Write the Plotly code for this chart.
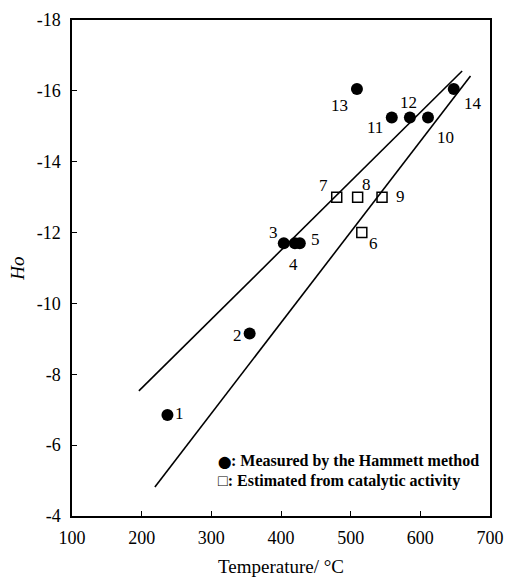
import plotly.graph_objects as go

# Acid strength (Ho) against temperature for each numbered catalyst
point_ids = ["1", "2", "3", "4", "5", "6", "7", "8", "9", "10", "11", "12", "13", "14"]
temperature = [237, 355, 404, 420, 427, 516, 480, 510, 545, 611, 559, 585, 509, 648]
ho_value = [-6.85, -9.15, -11.7, -11.7, -11.7, -12.0, -13.0, -13.0, -13.0,
            -15.25, -15.25, -15.25, -16.05, -16.05]
method = ["H", "H", "H", "H", "H", "C", "C", "C", "C", "H", "H", "H", "H", "H"]

# Two straight boundary lines drawn through the data
upper_line_t = [196, 660]
upper_line_ho = [-7.53, -16.56]
lower_line_t = [219, 672]
lower_line_ho = [-4.82, -16.42]

x_ticks = [100, 200, 300, 400, 500, 600, 700]
y_ticks = [-18, -16, -14, -12, -10, -8, -6, -4]

# Pixel offsets of each number label from its marker (dx right, dy down)
label_dx = [12, -12, -10, -1, 16, 12, -13, 9, 18, 17, -17, -1, -17, 19]
label_dy = [-2, 2, -11, 21, -4, 11, -12, -13, -1, 20, 10, -15, 16, 14]

SERIF = "Liberation Serif, Times New Roman, serif"

fig = go.Figure()

for xs, ys in ((upper_line_t, upper_line_ho), (lower_line_t, lower_line_ho)):
    fig.add_trace(go.Scatter(x=xs, y=ys, mode="lines",
                             line=dict(color="black", width=1.6),
                             showlegend=False, hoverinfo="skip"))

hx = [t for t, m in zip(temperature, method) if m == "H"]
hy = [h for h, m in zip(ho_value, method) if m == "H"]
cx = [t for t, m in zip(temperature, method) if m == "C"]
cy = [h for h, m in zip(ho_value, method) if m == "C"]

fig.add_trace(go.Scatter(x=hx, y=hy, mode="markers",
                         marker=dict(symbol="circle", size=12, color="black"),
                         showlegend=False))
fig.add_trace(go.Scatter(x=cx, y=cy, mode="markers",
                         marker=dict(symbol="square-open", size=10, color="black",
                                     line=dict(width=1.5)),
                         showlegend=False))

for pid, t, h, dx, dy in zip(point_ids, temperature, ho_value, label_dx, label_dy):
    fig.add_annotation(x=t, y=h, text=pid, showarrow=False,
                       xshift=dx, yshift=-dy,
                       font=dict(family=SERIF, size=17, color="black"))

# Key for the two marker kinds
fig.add_annotation(xref="paper", yref="paper", x=0.345, y=0.111, xanchor="left",
                   yanchor="middle", showarrow=False,
                   text="<span style='font-size:12px'>⬤</span><b>: Measured by the Hammett method</b>",
                   font=dict(family=SERIF, size=16, color="black"))
fig.add_annotation(xref="paper", yref="paper", x=0.345, y=0.07, xanchor="left",
                   yanchor="middle", showarrow=False,
                   text="<b>□: Estimated from catalytic activity</b>",
                   font=dict(family=SERIF, size=16, color="black"))

axis_common = dict(showline=True, mirror=True, linecolor="black", linewidth=1.5,
                   ticks="inside", ticklen=5, tickwidth=1.2, tickcolor="black",
                   showgrid=False, zeroline=False, automargin=False,
                   tickfont=dict(family=SERIF, size=18, color="black"))

fig.update_xaxes(range=[100, 700], tickvals=x_ticks, ticklabelstandoff=5,
                 title=dict(text="Temperature/ °C", standoff=16,
                            font=dict(family=SERIF, size=19, color="black")),
                 **axis_common)
fig.update_yaxes(range=[-4, -18], tickvals=y_ticks,
                 ticktext=[str(v) for v in y_ticks], ticklabelstandoff=6,
                 title=dict(text="<i>Ho</i>", standoff=7,
                            font=dict(family=SERIF, size=19, color="black")),
                 **axis_common)

fig.update_layout(width=505, height=577,
                  margin=dict(l=72, r=15, t=20, b=61),
                  plot_bgcolor="white", paper_bgcolor="white",
                  showlegend=False)

fig.write_html("out.html")
